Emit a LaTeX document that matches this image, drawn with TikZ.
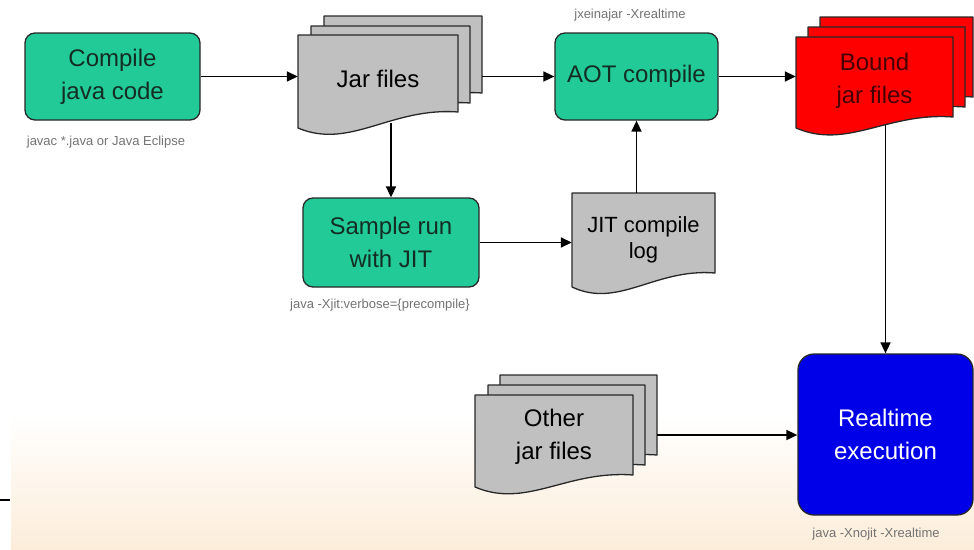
\documentclass[tikz,border=0pt]{standalone}
\usepackage{fontspec}
\setmainfont{Liberation Sans}
\usetikzlibrary{arrows.meta,calc}
\definecolor{tealbox}{RGB}{34,202,152}
\definecolor{tealtext}{RGB}{20,45,35}
\definecolor{grayfill}{RGB}{192,192,192}
\definecolor{redfill}{RGB}{255,0,0}
\definecolor{redtext}{RGB}{70,0,0}
\definecolor{bluebox}{RGB}{0,0,232}
\definecolor{edge}{RGB}{40,40,40}
\definecolor{capgray}{RGB}{115,115,115}
\definecolor{peach}{RGB}{252,237,218}
\newcommand\docsheet[6]{%
  \filldraw[sheet,fill=#6] (#1,#2) -- (#3,#2) -- (#3,#4)
    .. controls ({#3-0.42*(#3-#1)},{#4-5}) and ({#1+0.325*(#3-#1)},{#5+22}) .. (#1,#5) -- cycle;}
\begin{document}
\begin{tikzpicture}[x=1pt,y=-1pt,
  proc/.style={draw=edge, line width=1.3pt, rounded corners=10pt, fill=tealbox,
    text=tealtext, align=center, font=\fontsize{24}{33}\selectfont, inner sep=0pt},
  doctext/.style={align=center, font=\fontsize{24}{33}\selectfont, inner sep=0pt},
  sheet/.style={draw=edge, line width=1.3pt, line join=round},
  arr/.style={draw=black, line width=1.6pt, -{Triangle[length=11pt,width=10pt]}},
  captxt/.style={text=capgray, font=\fontsize{13}{15}\selectfont, inner sep=0pt}]
\useasboundingbox (0,0) rectangle (974,549);
% background
\fill[white] (0,0) rectangle (974,549);
\shade[top color=white, bottom color=peach] (11,415) rectangle (974,549);
\draw[line width=2pt] (0,500) -- (10,500);
% document stacks
\docsheet{324}{16}{482}{93}{109}{grayfill}
\docsheet{311}{26}{470}{103}{119}{grayfill}
\docsheet{298}{35}{458}{112}{128}{grayfill}
\docsheet{820}{17}{973}{97}{108}{redfill}
\docsheet{808}{27}{965}{107}{118}{redfill}
\docsheet{796}{37}{953}{117}{128}{redfill}
\docsheet{500}{375}{657}{455}{467}{grayfill}
\docsheet{488}{385}{645}{465}{477}{grayfill}
\docsheet{475}{395}{633}{475}{487}{grayfill}
\docsheet{572}{193}{715}{273}{287}{grayfill}
% nodes
\node[proc, minimum width=175, minimum height=87] (comp) at (112.5,76.5) {Compile\\java code};
\node[doctext, minimum width=160, minimum height=88] (jar) at (378,79) {Jar files};
\node[proc, minimum width=163, minimum height=87] (aot) at (636.5,76.5) {AOT compile};
\node[doctext, text=redtext, minimum width=157, minimum height=88] (bound) at (874.5,81) {Bound\\jar files};
\node[proc, minimum width=176, minimum height=89] (sample) at (391,242.5) {Sample run\\with JIT};
\node[doctext, font=\fontsize{22}{26}\selectfont, minimum width=143, minimum height=94] (log) at (643.5,240) {JIT compile\\log};
\node[doctext, minimum width=158, minimum height=84] (other) at (554,437) {Other\\jar files};
\node[proc, fill=bluebox, text=white, rounded corners=16pt, minimum width=175, minimum height=161] (rt) at (885.5,434.5) {Realtime\\execution};
% captions
\node[captxt] (c1) at (106,142) {javac *.java or Java Eclipse};
\node[captxt] (c2) at (630,15) {jxeinajar -Xrealtime};
\node[captxt] (c3) at (380,305) {java -Xjit:verbose=\{precompile\}};
\node[captxt] (c4) at (876,534) {java -Xnojit -Xrealtime};
% connectors
\coordinate (jarout) at ($(jar.east |- aot.west)+(24,0)$);
\coordinate (otherout) at ($(other.east)+(24,-2)$);
\draw[arr] (comp.east) -- (comp.east -| jar.west);
\draw[arr] (jarout) -- (aot.west);
\draw[arr] (aot.east) -- (aot.east -| bound.west);
\draw[arr] (sample.north |- jar.south) -- (sample.north);
\draw[arr] (sample.east) -- (sample.east -| log.west);
\draw[arr] (aot.south |- log.north) -- (aot.south);
\draw[arr] (rt.north |- bound.south) -- (rt.north);
\draw[arr] (otherout) -- (otherout -| rt.west);
\end{tikzpicture}
\end{document}
